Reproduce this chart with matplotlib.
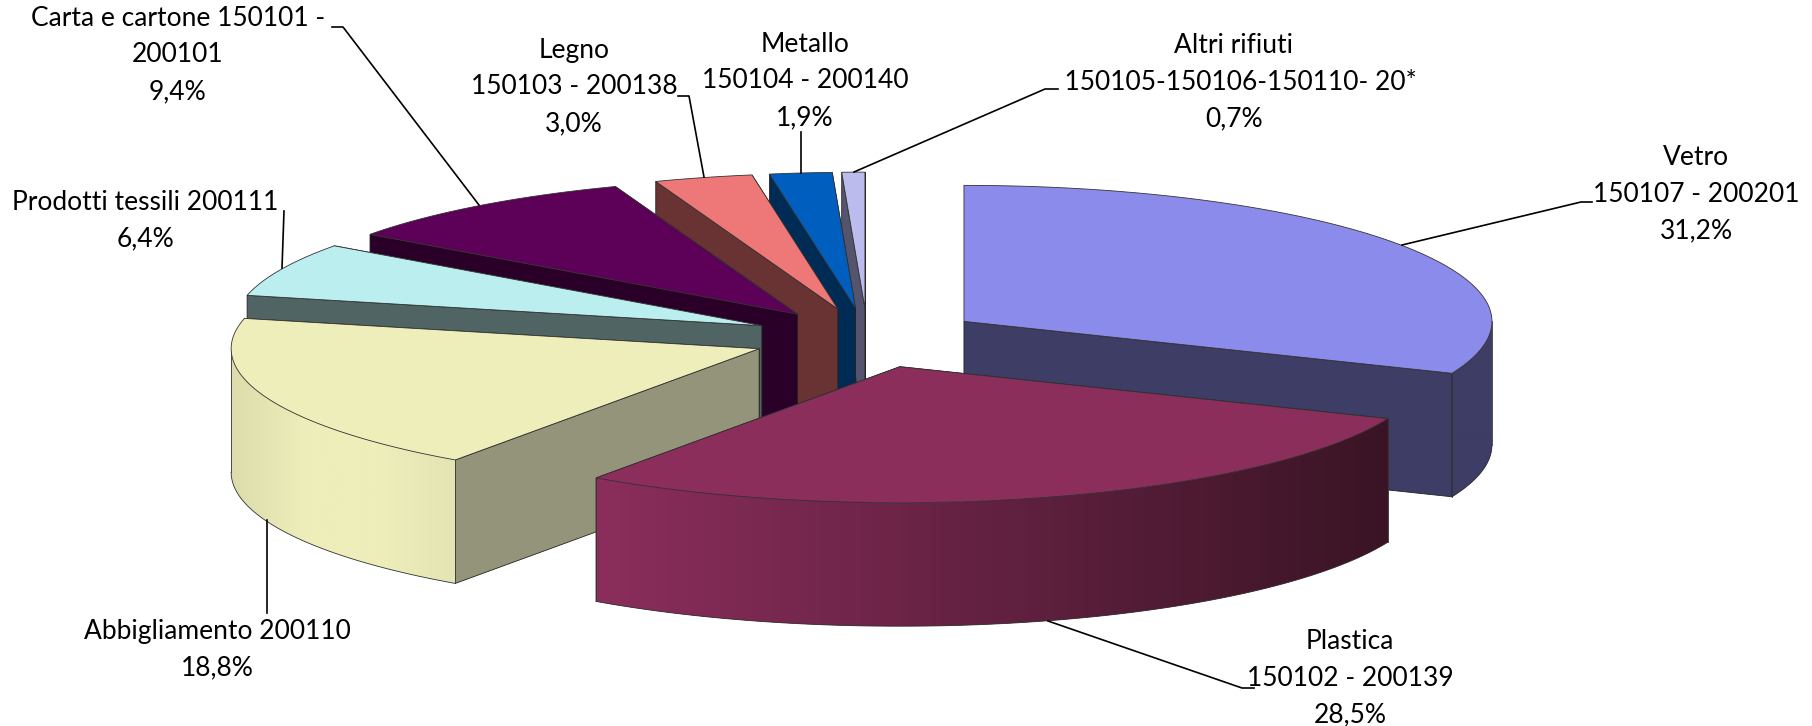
import matplotlib
matplotlib.use('Agg')
import matplotlib.pyplot as plt
from matplotlib.colors import LinearSegmentedColormap
import numpy as np

names = ['Vetro', 'Plastica', 'Abbigliamento 200110', 'Prodotti tessili 200111',
         'Carta e cartone 150101 -', 'Legno', 'Metallo', 'Altri rifiuti']
codes = ['150107 - 200201', '150102 - 200139', '', '', '200101',
         '150103 - 200138', '150104 - 200140', '  150105-150106-150110- 20*']
values = [31.2, 28.5, 18.8, 6.4, 9.4, 3.0, 1.9, 0.7]

top_colors = ['#8B8BEB', '#8B2E5C', '#EEEEBB', '#BBEEEE', '#5D0058', '#EE7777', '#005FBE', '#BBBBEE']
wall_colors = ['#3D3D66', '#3A1425', '#94947A', '#506464', '#2A0028', '#693333', '#002B55', '#54546E']
# colours of the outer rim, left to right
rim_colors = [['#3D3D66', '#3D3D66'], ['#8B2E5C', '#3A1425'], ['#DCDCAC', '#EEEEBB', '#EEEEBB', '#E4E4B4'],
              ['#506464', '#506464'], ['#2A0028', '#2A0028'], ['#693333', '#693333'],
              ['#002B55', '#002B55'], ['#54546E', '#54546E']]

cx, cy = 867.5, 338
rx, ry = 528, 136
depth = 123.5
explode = 1 / 4.55

label_x = [1696, 1350, 217, 145, 178, 574, 805, 1234]
label_y = [194, 678, 650, 221, 55, 87, 81, 82]
leaders = [
    [(1592, 202), (1581, 202), (1402, 245)],
    [(1254, 688), (1242, 688), (1048, 621)],
    [(267, 613), (267, 520)],
    [(284, 211), (282, 268)],
    [(332, 27), (343, 27), (479, 205)],
    [(678, 96), (689, 96), (704, 177)],
    [(801, 132), (801, 173)],
    [(1058, 89), (1045, 89), (854, 172)],
]

fig = plt.figure(figsize=(18.12, 7.26), dpi=100)
ax = fig.add_axes([0, 0, 1, 1])

edges = np.cumsum([0] + values) / sum(values) * 2 * np.pi


def rim(a, b, ox, oy, n=120):
    th = np.linspace(a, b, n)
    return ox + rx * np.sin(th), oy - ry * np.cos(th)


def draw_slice(i, z):
    a, b = edges[i], edges[i + 1]
    mid = (a + b) / 2
    ox = cx + explode * rx * np.sin(mid)
    oy = cy - explode * ry * np.cos(mid)

    # side walls, the one further back first
    for th in sorted([a, b], key=lambda v: -np.cos(v)):
        px, py = ox + rx * np.sin(th), oy - ry * np.cos(th)
        ax.fill([ox, px, px, ox], [oy, py, py + depth, oy + depth], color=wall_colors[i],
                ec='#222222', lw=0.6, zorder=z)

    # outer wall, only what faces the viewer
    lo, hi = max(a, np.pi / 2), min(b, 3 * np.pi / 2)
    if lo < hi:
        x, y = rim(lo, hi, ox, oy)
        xmin, xmax = x.min(), x.max()
        poly, = ax.fill(np.r_[x, x[::-1]], np.r_[y, y[::-1] + depth], color=rim_colors[i][0], lw=0, zorder=z)
        cmap = LinearSegmentedColormap.from_list('rim%d' % i, rim_colors[i])
        im = ax.imshow(np.linspace(0, 1, 256)[None, :], cmap=cmap, aspect='auto',
                       extent=(xmin, xmax, y.max() + depth, y.min()), zorder=z)
        im.set_clip_path(poly)
        ax.plot(x, y + depth, color='#333333', lw=0.6, zorder=z)
        ax.plot([x[0], x[0]], [y[0], y[0] + depth], color='#333333', lw=0.6, zorder=z)
        ax.plot([x[-1], x[-1]], [y[-1], y[-1] + depth], color='#333333', lw=0.6, zorder=z)

    # top face
    x, y = rim(a, b, ox, oy)
    ax.fill(np.r_[ox, x], np.r_[oy, y], fc=top_colors[i], ec='#333333', lw=0.6, zorder=z)


# painted from the back of the pie to the front
draw_order = [7, 6, 5, 4, 3, 2, 0, 1]
for n, s in enumerate(draw_order):
    draw_slice(s, n + 1)

for i in range(len(values)):
    lines = [names[i]]
    if codes[i]:
        lines.append(codes[i])
    lines.append(('%.1f%%' % values[i]).replace('.', ','))
    ax.text(label_x[i], label_y[i], '\n'.join(lines), ha='center', va='center', family='Lato',
            fontsize=19, color='black', linespacing=1.58, zorder=20)
    lx, ly = zip(*leaders[i])
    ax.plot(lx, ly, color='black', lw=1.2, zorder=15)

ax.set_xlim(0, 1812)
ax.set_ylim(726, 0)
ax.axis('off')

fig.savefig('out.png', dpi=100, facecolor='white')
